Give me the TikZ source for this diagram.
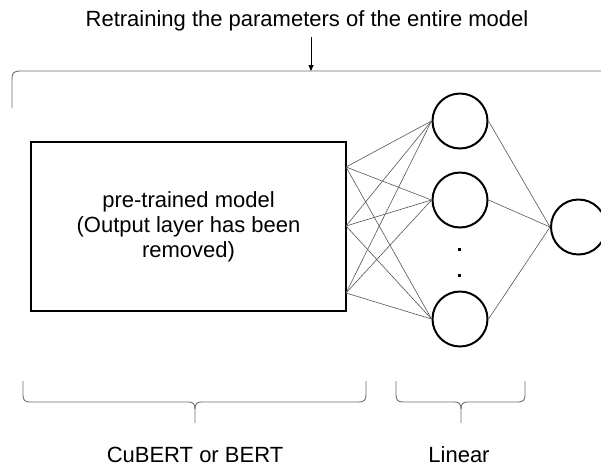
\documentclass[tikz,border=0pt]{standalone}
\usepackage{fontspec}
\setmainfont{Liberation Sans}
\usetikzlibrary{arrows.meta}
\definecolor{linegray}{HTML}{555555}
\definecolor{bracegray}{HTML}{6E6E6E}
\tikzset{
  lbl/.style={font=\fontsize{22}{25}\selectfont, inner sep=0pt, anchor=base},
  modelbox/.style={draw=black, line width=2pt, minimum width=315pt, minimum height=169pt, inner sep=0pt, align=center, font=\fontsize{22}{25}\selectfont},
  neuron/.style={draw=black, line width=2pt, circle, minimum size=55pt, inner sep=0pt},
  conn/.style={draw=linegray, line width=0.6pt},
  bracepath/.style={draw=bracegray, line width=0.9pt},
  dotmark/.style={fill=black, minimum size=3pt, inner sep=0pt},
}
\begin{document}
\begin{tikzpicture}[x=1pt, y=-1pt]
\useasboundingbox (0,0) rectangle (601,467);
% title and arrow
\node[lbl] (title) at (307,26) {Retraining the parameters of the entire model};
\coordinate (arrtop) at (311,37);
\coordinate (arrbot) at (311,71);
\draw[-{Triangle[length=6pt,width=5pt]}, line width=0.8pt] (arrtop) -- (arrbot);
% top bracket
\coordinate (tb0) at (12,108);
\coordinate (tb1) at (601,71);
\draw[bracepath] (tb0) -- (12,79) .. controls (12,73) and (14,71) .. (20,71) -- (tb1);
% model box
\node[modelbox] (box) at (188.5,226.5) {pre-trained model\\(Output layer has been\\removed)};
\coordinate (p1) at (346,167);
\coordinate (p2) at (346,226);
\coordinate (p3) at (346,293);
% neurons
\node[neuron] (h1) at (460,121) {};
\node[neuron] (h2) at (460,200) {};
\node[neuron] (h3) at (460,319) {};
\node[neuron] (out) at (578.5,227) {};
\node[dotmark] (d1) at (459,249) {};
\node[dotmark] (d2) at (459,275) {};
% connections
\foreach \p in {p1,p2,p3}{
  \foreach \h in {h1,h2,h3}{
    \draw[conn] (\p) -- (\h.west);
  }
}
\foreach \h in {h1,h2,h3}{
  \draw[conn] (\h.east) -- (out.west);
}
% bottom braces
\coordinate (b1l) at (23,381);
\coordinate (b1r) at (366,381);
\coordinate (b1t) at (195,423);
\draw[bracepath] (b1l) -- (23,395) .. controls (23,400) and (25,402) .. (30,402) -- (189,402) .. controls (193,402) and (195,404) .. (195,409) -- (b1t);
\draw[bracepath] (b1r) -- (366,395) .. controls (366,400) and (364,402) .. (359,402) -- (201,402) .. controls (197,402) and (195,404) .. (195,409);
\coordinate (b2l) at (396,381);
\coordinate (b2r) at (525,381);
\coordinate (b2t) at (461,423);
\draw[bracepath] (b2l) -- (396,395) .. controls (396,400) and (398,402) .. (403,402) -- (455,402) .. controls (459,402) and (461,404) .. (461,409) -- (b2t);
\draw[bracepath] (b2r) -- (525,395) .. controls (525,400) and (523,402) .. (518,402) -- (467,402) .. controls (463,402) and (461,404) .. (461,409);
% labels
\node[lbl] (lab1) at (195,462) {CuBERT or BERT};
\node[lbl] (lab2) at (459,462) {Linear};
\end{tikzpicture}
\end{document}
